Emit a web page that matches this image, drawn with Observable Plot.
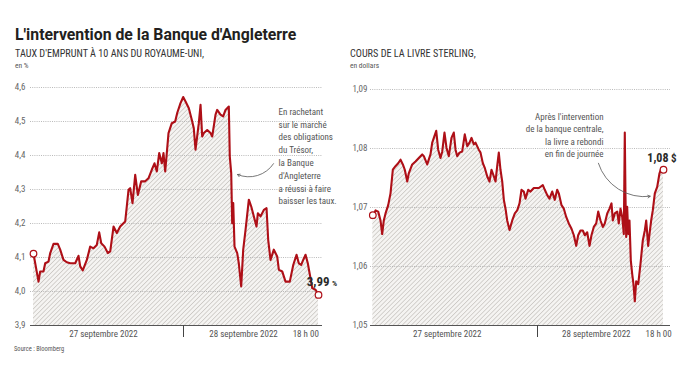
<!DOCTYPE html>
<html><head><meta charset="utf-8">
<script src="https://cdn.jsdelivr.net/npm/d3@7"></script>
<script src="https://cdn.jsdelivr.net/npm/@observablehq/plot@0.6"></script>
<style>
body{margin:0;background:#fff;}
#wrap{position:relative;width:693px;height:372px;overflow:hidden;font-family:"Liberation Sans Narrow","Roboto Condensed","DejaVu Sans Condensed",sans-serif;}
.t{position:absolute;white-space:nowrap;line-height:1;}
svg{overflow:visible;}
</style></head>
<body><div id="wrap">
<div class="t" style="left:15px;top:27px;font-family:Roboto,sans-serif;font-size:15.8px;font-weight:bold;color:#231f20;">L'intervention de la Banque d'Angleterre</div>
<div class="t" style="left:15px;top:48.5px;font-size:10.2px;color:#333;">TAUX D'EMPRUNT À 10 ANS DU ROYAUME-UNI,</div>
<div class="t" style="left:15px;top:61.5px;font-size:7.5px;color:#555;">en %</div>
<div class="t" style="left:350px;top:48.5px;font-size:10.2px;color:#333;">COURS DE LA LIVRE STERLING,</div>
<div class="t" style="left:350px;top:61.5px;font-size:7.5px;color:#555;">en dollars</div>
<div class="t" style="left:14px;top:345.5px;font-size:6.5px;color:#555;">Source : Bloomberg</div>
<div id="left" style="position:absolute;left:0;top:70px;"></div>
<div id="right" style="position:absolute;left:340px;top:70px;"></div>
</div>
<script>
// ---- Data: UK 10-year gilt yield (hours from 27 Sep 2022 00:00) ----
const leftT = [4.0,4.67,4.89,5.33,5.56,6.0,6.23,6.67,7.24,7.56,8.0,8.44,8.89,9.56,10.0,10.23,10.57,11.11,11.56,12.0,12.44,12.76,13.03,13.47,13.91,14.23,14.67,15.11,15.56,16.23,16.67,16.89,17.2,17.56,17.91,18.36,18.89,19.33,19.77,20.13,20.44,20.76,21.11,21.33,21.56,22.0,22.44,22.89,23.16,23.6,23.96,24.27,24.71,25.16,25.37,25.6,26.04,26.27,26.49,26.71,27.16,27.6,27.83,28.27,28.49,28.93,29.29,29.6,30.04,30.17,30.36,30.49,30.63,30.8,31.16,31.37,31.69,31.96,32.27,32.71,33.03,33.37,33.73,33.91,34.27,34.71,35.07,35.29,35.6,36.04,36.49,36.71,37.16,37.6,38.17,38.63,39.07,39.37,39.69,39.96,40.27,40.57,40.93,41.16,41.6,42.0];
const leftV = [4.111,4.029,4.059,4.059,4.083,4.088,4.113,4.140,4.140,4.123,4.093,4.086,4.083,4.083,4.105,4.074,4.062,4.093,4.132,4.127,4.137,4.174,4.142,4.132,4.113,4.118,4.191,4.172,4.191,4.206,4.299,4.304,4.260,4.343,4.284,4.324,4.324,4.333,4.358,4.377,4.353,4.407,4.377,4.407,4.353,4.466,4.495,4.500,4.525,4.554,4.572,4.559,4.539,4.500,4.480,4.417,4.495,4.549,4.456,4.466,4.475,4.466,4.456,4.520,4.534,4.520,4.515,4.534,4.544,4.397,4.348,4.201,4.260,4.132,4.113,4.083,4.015,4.123,4.181,4.270,4.250,4.221,4.191,4.230,4.221,4.240,4.245,4.152,4.093,4.123,4.103,4.064,4.059,4.029,4.029,4.078,4.108,4.083,4.078,4.093,4.108,4.083,4.039,4.010,4.005,3.990];
// ---- Data: GBP/USD ----
const rightT = [0.47,0.86,1.24,1.57,1.81,2.04,2.29,2.67,3.0,3.33,3.71,4.1,4.43,4.76,5.04,5.39,5.61,6.1,6.57,7.04,7.53,7.76,8.24,8.71,8.96,9.19,9.53,9.81,10.14,10.39,10.71,11.0,11.33,11.71,12.04,12.29,12.53,12.86,13.24,13.61,13.96,14.29,14.57,14.9,15.14,15.61,15.86,16.19,16.47,16.81,17.14,17.43,17.76,18.0,18.24,18.47,18.71,18.96,19.19,19.43,19.67,20.0,20.39,20.76,21.1,21.43,21.71,22.04,22.29,22.67,23.0,23.47,24.19,24.76,25.04,25.39,25.71,26.1,26.47,26.81,27.04,27.43,27.76,28.1,28.47,28.86,29.19,29.53,29.81,30.14,30.47,30.76,31.1,31.43,31.71,32.04,32.39,32.67,33.0,33.33,33.61,33.96,34.29,34.57,34.76,35.04,35.39,35.61,35.86,36.1,36.33,36.47,36.57,36.67,36.81,36.96,37.14,37.33,37.53,37.71,37.9,38.1,38.39,38.71,39.04,39.33,39.53,39.81,40.0,40.24,40.47,40.76,41.1,41.43,41.71,42.0];
const rightV = [1.0687,1.0695,1.0693,1.0678,1.0655,1.0678,1.0690,1.0704,1.0724,1.0764,1.0770,1.0775,1.0781,1.0773,1.0764,1.0744,1.0758,1.0773,1.0778,1.0784,1.0790,1.0787,1.0773,1.0790,1.0810,1.0818,1.0830,1.0798,1.0784,1.0795,1.0827,1.0801,1.0787,1.0818,1.0827,1.0798,1.0787,1.0793,1.0795,1.0824,1.0804,1.0810,1.0818,1.0807,1.0810,1.0798,1.0793,1.0775,1.0767,1.0753,1.0744,1.0764,1.0753,1.0744,1.0770,1.0793,1.0764,1.0744,1.0713,1.0698,1.0678,1.0662,1.0678,1.0690,1.0695,1.0707,1.0730,1.0727,1.0715,1.0730,1.0727,1.0733,1.0733,1.0738,1.0730,1.0721,1.0715,1.0727,1.0713,1.0730,1.0724,1.0704,1.0698,1.0684,1.0673,1.0664,1.0653,1.0635,1.0653,1.0661,1.0661,1.0653,1.0658,1.0635,1.0653,1.0667,1.0673,1.0693,1.0678,1.0667,1.0673,1.0690,1.0698,1.0707,1.0678,1.0690,1.0693,1.0673,1.0698,1.0684,1.0655,1.0827,1.0718,1.0650,1.0701,1.0655,1.0678,1.0610,1.0587,1.0570,1.0541,1.0575,1.0570,1.0604,1.0644,1.0661,1.0678,1.0635,1.0655,1.0678,1.0695,1.0724,1.0735,1.0758,1.0767,1.0764];

const leftTicks = [3.9,4.0,4.1,4.2,4.3,4.4,4.5,4.6];
const rightTicks = [1.05,1.06,1.07,1.08,1.09];
const dayLabels = ["27 septembre 2022","28 septembre 2022","18 h 00"];
const leftLabelT = [13.33,32.0,40.3];
const rightLabelT = [11.1,32.4,41.3];
const midnight = 24;
const leftNote = "En rachetant\nsur le marché\ndes obligations\ndu Trésor,\nla Banque\nd'Angleterre\na réussi à faire\nbaisser les taux.";
const rightNote = "Après l'intervention\nde la banque centrale,\nla livre a rebondi\nen fin de journée";
const leftEndLabel = ["3,99","%"];
const rightEndLabel = ["1,08","$"];

const RED = "#ae0f17";
const FONT = '"Liberation Sans Narrow","Roboto Condensed","DejaVu Sans Condensed",sans-serif';
const L = leftT.map((t,i)=>({t, v:leftV[i]}));
const R = rightT.map((t,i)=>({t, v:rightV[i]}));

function addHatch(svg, id){
  d3.select(svg).insert("defs", ":first-child").html(
    `<pattern id="${id}" patternUnits="userSpaceOnUse" width="3.2" height="3.2" patternTransform="rotate(45)">
       <rect width="3.2" height="3.2" fill="#f5f4f2"/>
       <line x1="0" y1="0" x2="0" y2="3.2" stroke="#b3afaa" stroke-width="1"/>
     </pattern>`);
}

function chart(o){
  const data=o.data, ticks=o.ticks, lo=ticks[0];
  const labMap = new Map(o.labelT.map((t,i)=>[t, dayLabels[i]]));
  const first=data[0], last=data[data.length-1];
  const svg = Plot.plot({
    width:o.width, height:286, marginLeft:30, marginRight:o.mr, marginTop:o.mt, marginBottom:31,
    x:{domain:o.xdom, label:null},
    y:{domain:[lo, ticks[ticks.length-1]], label:null},
    style:{fontFamily:FONT, fontSize:"9px", color:"#555", background:"transparent", overflow:"visible"},
    marks:[
      Plot.areaY(data,{x:"t", y1:lo, y2:"v", fill:`url(#${o.hatch})`}),
      Plot.ruleY(ticks.slice(1),{stroke:"#a8a8a8", strokeWidth:0.8, strokeDasharray:"1,1.2"}),
      Plot.ruleY([lo],{stroke:"#555", strokeWidth:1}),
      Plot.axisY({ticks, tickSize:0, tickPadding:o.tp, tickFormat:o.fmt, fill:"#666", fontSize:9, label:null}),
      Plot.axisX({ticks:[midnight], tickSize:12, tickFormat:()=>"", stroke:"#444", label:null}),
      Plot.axisX({ticks:o.labelT, tickSize:0, tickPadding:5, tickFormat:d=>labMap.get(d), fill:"#555", fontSize:9, label:null}),
      Plot.line(data,{x:"t", y:"v", stroke:RED, strokeWidth:2.1, strokeLinejoin:"round"}),
      Plot.dot([first,last],{x:"t", y:"v", r:3.3, fill:"white", stroke:RED, strokeWidth:1.2}),
      Plot.text([o.note],{x:o.noteX, y:o.noteY, text:d=>d, textAnchor:o.noteAnchor, lineAnchor:"top", lineHeight:o.lh, fontSize:9, fill:"#555"}),
      Plot.arrow([o.arrow],{x1:"x1", y1:"y1", x2:"x2", y2:"y2", bend:o.bend, stroke:"#555", strokeWidth:0.8, headLength:5}),
      Plot.text([last],{x:"t", y:"v", text:()=>o.endLabel[0], textAnchor:"end", lineAnchor:"bottom", dx:o.edx, dy:o.edy, fontSize:o.valSize, fontWeight:"bold", fill:"#2a2a2a"}),
      Plot.text([last],{x:"t", y:"v", text:()=>o.endLabel[1], textAnchor:"start", lineAnchor:"bottom", dx:o.edx+2.5, dy:o.edy, fontSize:o.unitSize, fontWeight:"bold", fill:"#2a2a2a"})
    ]
  });
  addHatch(svg, o.hatch);
  return svg;
}

document.getElementById("left").append(chart({
  data:L, ticks:leftTicks, width:340, mr:18, mt:17, xdom:[3.6,42.53], tp:5,
  fmt:d=>d.toFixed(1).replace(".",","), labelT:leftLabelT, hatch:"hatchL",
  note:leftNote, noteX:36.67, noteY:4.546, noteAnchor:"start", lh:1.42,
  arrow:{x1:36.0, y1:4.376, x2:31.2, y2:4.344}, bend:40,
  endLabel:leftEndLabel, edx:11, edy:-9, valSize:13, unitSize:8
}));
document.getElementById("right").append(chart({
  data:R, ticks:rightTicks, width:353, mr:23, mt:19, xdom:[0.14,43.0], tp:3,
  fmt:d=>d.toFixed(2).replace(".",","), labelT:rightLabelT, hatch:"hatchR",
  note:rightNote, noteX:33.43, noteY:1.0864, noteAnchor:"end", lh:1.39,
  arrow:{x1:32.7, y1:1.0775, x2:40.1, y2:1.0719}, bend:-40,
  endLabel:rightEndLabel, edx:5, edy:-8, valSize:12, unitSize:11
}));
</script>
</body></html>
